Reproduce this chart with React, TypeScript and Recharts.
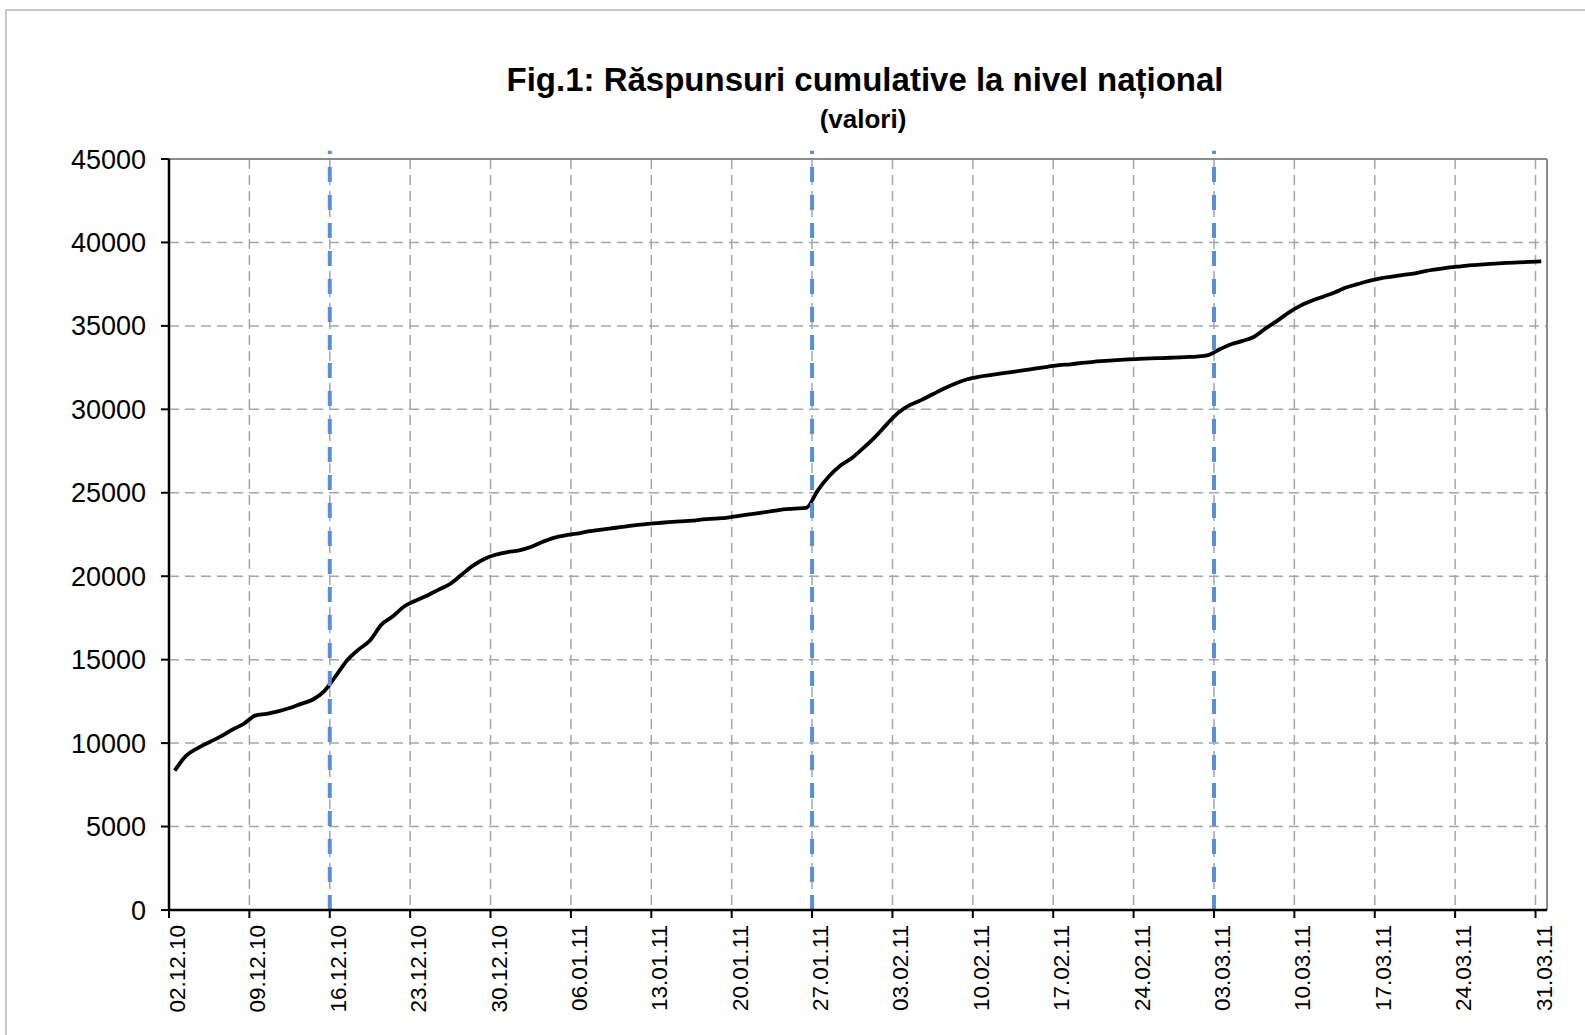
import React from 'react'
import {
  LineChart,
  Line,
  XAxis,
  YAxis,
  CartesianGrid,
  ReferenceLine,
} from 'recharts'

// Cumulative responses, one value per day from 02.12.10 to 31.03.11
const responses = [
  8350, 9250, 9700, 10050, 10400, 10800, 11150, 11650, 11750, 11900,
  12100, 12350, 12600, 13100, 14000, 14950, 15600, 16150, 17100, 17600,
  18200, 18550, 18850, 19200, 19550, 20100, 20650, 21050, 21300, 21450,
  21550, 21750, 22050, 22300, 22450, 22550, 22680, 22780, 22870, 22950,
  23050, 23120, 23180, 23240, 23290, 23330, 23400, 23450, 23500, 23600,
  23700, 23800, 23900, 24000, 24050, 24100, 25150, 26000, 26650, 27100,
  27700, 28350, 29100, 29800, 30250, 30550, 30900, 31250, 31550, 31800,
  31950, 32050, 32150, 32250, 32350, 32450, 32550, 32650, 32700, 32780,
  32850, 32900, 32950, 32990, 33020, 33050, 33070, 33100, 33130, 33160,
  33250, 33600, 33900, 34100, 34350, 34850, 35300, 35800, 36200, 36500,
  36750, 37000, 37300, 37500, 37700, 37850, 37950, 38050, 38150, 38300,
  38400, 38500, 38570, 38640, 38690, 38730, 38770, 38800, 38830, 38860,
]

const tickDays = [0, 7, 14, 21, 28, 35, 42, 49, 56, 63, 70, 77, 84, 91, 98, 105, 112, 119]
const tickLabels = [
  '02.12.10', '09.12.10', '16.12.10', '23.12.10', '30.12.10', '06.01.11',
  '13.01.11', '20.01.11', '27.01.11', '03.02.11', '10.02.11', '17.02.11',
  '24.02.11', '03.03.11', '10.03.11', '17.03.11', '24.03.11', '31.03.11',
]
const yTicks = [0, 5000, 10000, 15000, 20000, 25000, 30000, 35000, 40000, 45000]

// days marked with the blue vertical lines (16.12, 27.01, 03.03)
const markerDays = [14, 56, 91]

const data = responses.map((v, i) => ({ day: i + 0.5, value: v }))

const FONT = '"Liberation Sans", Arial, sans-serif'

function XTick({ x, y, payload }: any) {
  const idx = tickDays.indexOf(payload.value)
  const label = idx >= 0 ? tickLabels[idx] : ''
  const bx = x + 16
  const by = y + 7
  return (
    <text
      x={bx}
      y={by}
      transform={`rotate(-90, ${bx}, ${by})`}
      textAnchor="end"
      fontSize={22.5}
      fontFamily={FONT}
      fill="#000"
    >
      {label}
    </text>
  )
}

function YTick({ x, y, payload }: any) {
  return (
    <text
      x={x - 15}
      y={y + 9.5}
      textAnchor="end"
      fontSize={27}
      fontFamily={FONT}
      fill="#000"
    >
      {payload.value}
    </text>
  )
}

export default function App() {
  return (
    <div
      style={{
        position: 'absolute',
        left: 0,
        top: 0,
        width: 1585,
        height: 1035,
        overflow: 'hidden',
        background: '#fff',
        fontFamily: FONT,
      }}
    >
      {/* chart frame */}
      <div
        style={{
          position: 'absolute',
          left: 5,
          top: 9,
          width: 1600,
          height: 1060,
          border: '2px solid #c8c8c8',
        }}
      />
      <div
        style={{
          position: 'absolute',
          left: 0,
          width: 1730,
          top: 61,
          textAlign: 'center',
          fontSize: 33,
          fontWeight: 700,
          lineHeight: '37px',
          color: '#000',
        }}
      >
        Fig.1: Răspunsuri cumulative la nivel național
      </div>
      <div
        style={{
          position: 'absolute',
          left: 0,
          width: 1726,
          top: 104,
          textAlign: 'center',
          fontSize: 26,
          fontWeight: 700,
          lineHeight: '30px',
          color: '#000',
        }}
      >
        (valori)
      </div>

      <div style={{ position: 'absolute', left: 0, top: 0 }}>
        <LineChart
          width={1585}
          height={1035}
          data={data}
          margin={{ top: 159, right: 38, left: 0, bottom: 0 }}
        >
          <CartesianGrid
            stroke="#a6a6a6"
            strokeWidth={1.5}
            strokeDasharray="10 6"
          />
          <XAxis
            type="number"
            dataKey="day"
            domain={[0, 120]}
            ticks={tickDays}
            interval={0}
            height={125}
            tick={<XTick />}
            tickSize={8}
            tickMargin={0}
            axisLine={{ stroke: '#000', strokeWidth: 2.5 }}
            tickLine={{ stroke: '#000', strokeWidth: 2 }}
          />
          <YAxis
            type="number"
            domain={[0, 45000]}
            ticks={yTicks}
            interval={0}
            width={169}
            tick={<YTick />}
            tickSize={8}
            tickMargin={0}
            axisLine={{ stroke: '#000', strokeWidth: 2.5 }}
            tickLine={{ stroke: '#000', strokeWidth: 2 }}
          />
          <ReferenceLine y={45000} stroke="#8c8c8c" strokeWidth={2} />
          <ReferenceLine x={120} stroke="#8c8c8c" strokeWidth={2} />
          <Line
            type="monotone"
            dataKey="value"
            stroke="#000"
            strokeWidth={3.8}
            dot={false}
            activeDot={false}
            isAnimationActive={false}
          />
          {markerDays.map((d) => (
            <ReferenceLine
              key={d}
              segment={[
                { x: d, y: 0 },
                { x: d, y: 45500 },
              ]}
              ifOverflow="visible"
              stroke="#5B8FD3"
              strokeWidth={4}
              strokeDasharray="15 13"
            />
          ))}
        </LineChart>
      </div>
    </div>
  )
}
